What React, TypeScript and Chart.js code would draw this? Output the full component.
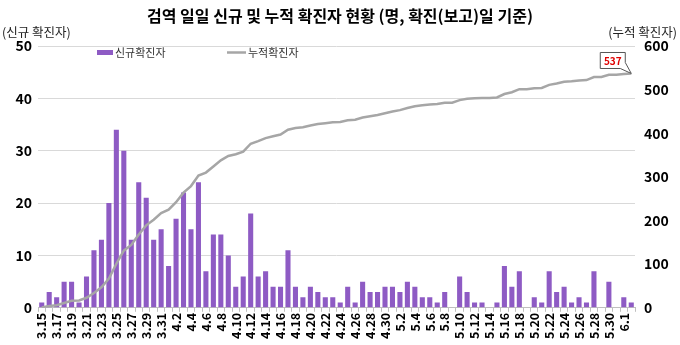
import React, { useEffect, useRef } from "react";
import { Chart, registerables } from "chart.js";
Chart.register(...registerables);

const categories = [
  "3.15","3.16","3.17","3.18","3.19","3.20","3.21","3.22","3.23","3.24","3.25","3.26","3.27","3.28","3.29","3.30","3.31",
  "4.1","4.2","4.3","4.4","4.5","4.6","4.7","4.8","4.9","4.10","4.11","4.12","4.13","4.14","4.15","4.16","4.17","4.18","4.19","4.20",
  "4.21","4.22","4.23","4.24","4.25","4.26","4.27","4.28","4.29","4.30",
  "5.1","5.2","5.3","5.4","5.5","5.6","5.7","5.8","5.9","5.10","5.11","5.12","5.13","5.14","5.15","5.16","5.17","5.18","5.19","5.20",
  "5.21","5.22","5.23","5.24","5.25","5.26","5.27","5.28","5.29","5.30","5.31",
  "6.1","6.2"
];

const newCases = [
  1,3,2,5,5,1,6,11,13,20,34,30,13,24,21,13,15,
  8,17,22,15,24,7,14,14,10,4,6,18,6,7,4,4,11,4,2,4,
  3,2,2,1,4,1,5,3,3,4,
  4,3,5,4,2,2,1,3,0,6,3,1,1,0,1,8,4,7,0,2,
  1,7,3,4,1,2,1,7,0,5,0,
  2,1
];

const cumulative = [
  1,4,6,11,16,17,23,34,47,67,101,131,144,168,189,202,217,
  225,242,264,279,303,310,324,338,348,352,358,376,382,389,393,397,408,412,414,418,
  421,423,425,426,430,431,436,439,442,446,
  450,453,458,462,464,466,467,470,470,476,479,480,481,481,482,490,494,501,501,503,
  504,511,514,518,519,521,522,529,529,534,534,
  536,537
];

const leftTicks = [0, 10, 20, 30, 40, 50];
const rightTicks = [0, 100, 200, 300, 400, 500, 600];

const titleText = "검역 일일 신규 및 누적 확진자 현황 (명, 확진(보고)일 기준)";
const leftUnit = "(신규 확진자)";
const rightUnit = "(누적 확진자)";
const barLabel = "신규확진자";
const lineLabel = "누적확진자";

const FONT = "'Noto Sans CJK KR', 'Noto Sans', sans-serif";
const BAR_COLOR = "#8e5bc4";
const BAR_BORDER = "#7a48b0";
const LINE_COLOR = "#a6a6a6";

const overlayPlugin = {
  id: "overlay",
  afterDraw(chart: any) {
    const ctx = chart.ctx;
    ctx.save();
    // title
    ctx.fillStyle = "#000";
    ctx.font = `bold 16px ${FONT}`;
    ctx.textAlign = "center";
    ctx.textBaseline = "middle";
    ctx.fillText(titleText, 340, 16);
    // units
    ctx.font = `12.5px ${FONT}`;
    ctx.fillStyle = "#222";
    ctx.textAlign = "left";
    ctx.fillText(leftUnit, 2, 32);
    ctx.textAlign = "right";
    ctx.fillText(rightUnit, 677, 32);
    // legend
    ctx.font = `11px ${FONT}`;
    ctx.textAlign = "left";
    ctx.fillStyle = BAR_COLOR;
    ctx.fillRect(97, 50, 16, 5);
    ctx.fillStyle = "#333";
    ctx.fillText(barLabel, 115, 52.5);
    ctx.strokeStyle = LINE_COLOR;
    ctx.lineWidth = 2.5;
    ctx.beginPath();
    ctx.moveTo(227, 52.5);
    ctx.lineTo(246, 52.5);
    ctx.stroke();
    ctx.fillStyle = "#333";
    ctx.fillText(lineLabel, 248, 52.5);
    // callout for last cumulative value
    const meta = chart.getDatasetMeta(0);
    const last = meta.data[meta.data.length - 1];
    if (last) {
      const px = last.x;
      const py = last.y;
      const right = px - 6;
      const bottom = py - 5;
      const w = 25;
      const h = 16;
      const left = right - w;
      const top = bottom - h;
      ctx.beginPath();
      ctx.moveTo(left, top);
      ctx.lineTo(right, top);
      ctx.lineTo(right, bottom - 6);
      ctx.lineTo(px, py);
      ctx.lineTo(right - 5, bottom);
      ctx.lineTo(left, bottom);
      ctx.closePath();
      ctx.fillStyle = "#fff";
      ctx.fill();
      ctx.strokeStyle = "#555";
      ctx.lineWidth = 1;
      ctx.stroke();
      ctx.fillStyle = "#e00000";
      ctx.font = `bold 10px ${FONT}`;
      ctx.textAlign = "center";
      ctx.textBaseline = "middle";
      ctx.fillText(String(cumulative[cumulative.length - 1]), left + w / 2, top + h / 2 + 0.5);
    }
    ctx.restore();
  },
};

export default function App() {
  const ref = useRef<HTMLCanvasElement | null>(null);
  useEffect(() => {
    document.body.style.margin = "0";
    const canvas = ref.current;
    if (!canvas) return;
    const chart = new Chart(canvas, {
      type: "bar",
      data: {
        labels: categories,
        datasets: [
          {
            type: "line",
            label: lineLabel,
            data: cumulative,
            yAxisID: "y1",
            borderColor: LINE_COLOR,
            borderWidth: 2.5,
            pointRadius: 0,
            tension: 0,
            order: 0,
          } as any,
          {
            type: "bar",
            label: barLabel,
            data: newCases,
            yAxisID: "y",
            backgroundColor: BAR_COLOR,
            borderColor: BAR_BORDER,
            borderWidth: 0,
            barPercentage: 0.68,
            categoryPercentage: 1,
            order: 1,
          } as any,
        ],
      },
      options: {
        animation: false,
        responsive: false,
        maintainAspectRatio: false,
        layout: { padding: { top: 46, left: 0, right: 0, bottom: 5 } },
        plugins: {
          legend: { display: false },
          title: { display: false },
          tooltip: { enabled: false },
        },
        scales: {
          x: {
            offset: true,
            grid: { display: true, drawOnChartArea: false, drawTicks: true, tickLength: 4, color: "#bfbfbf" },
            border: { display: true, color: "#bfbfbf" },
            ticks: {
              autoSkip: false,
              minRotation: 90,
              maxRotation: 90,
              padding: 1,
              color: "#000",
              font: { family: FONT, size: 12.5, weight: "bold" },
              callback: (_v: any, i: number) => (i % 2 === 0 ? categories[i] : ""),
            },
          },
          y: {
            position: "left",
            min: 0,
            max: 50,
            afterBuildTicks: (s: any) => { s.ticks = leftTicks.map((v) => ({ value: v })); },
            afterFit: (s: any) => { s.width = 38; },
            grid: { color: "#d9d9d9", drawTicks: false },
            border: { display: false },
            ticks: {
              padding: 6,
              color: "#000",
              font: { family: FONT, size: 14, weight: "bold" },
            },
          },
          y1: {
            position: "right",
            min: 0,
            max: 600,
            afterBuildTicks: (s: any) => { s.ticks = rightTicks.map((v) => ({ value: v })); },
            afterFit: (s: any) => { s.width = 45; },
            grid: { drawOnChartArea: false, drawTicks: false },
            border: { display: false },
            ticks: {
              padding: 9,
              color: "#000",
              font: { family: FONT, size: 14, weight: "bold" },
            },
          },
        },
      },
      plugins: [overlayPlugin],
    });
    return () => chart.destroy();
  }, []);
  return (
    <div style={{ position: "absolute", left: 0, top: 0, width: 680, height: 345 }}>
      <canvas ref={ref} width={680} height={345} style={{ width: 680, height: 345 }} />
    </div>
  );
}
